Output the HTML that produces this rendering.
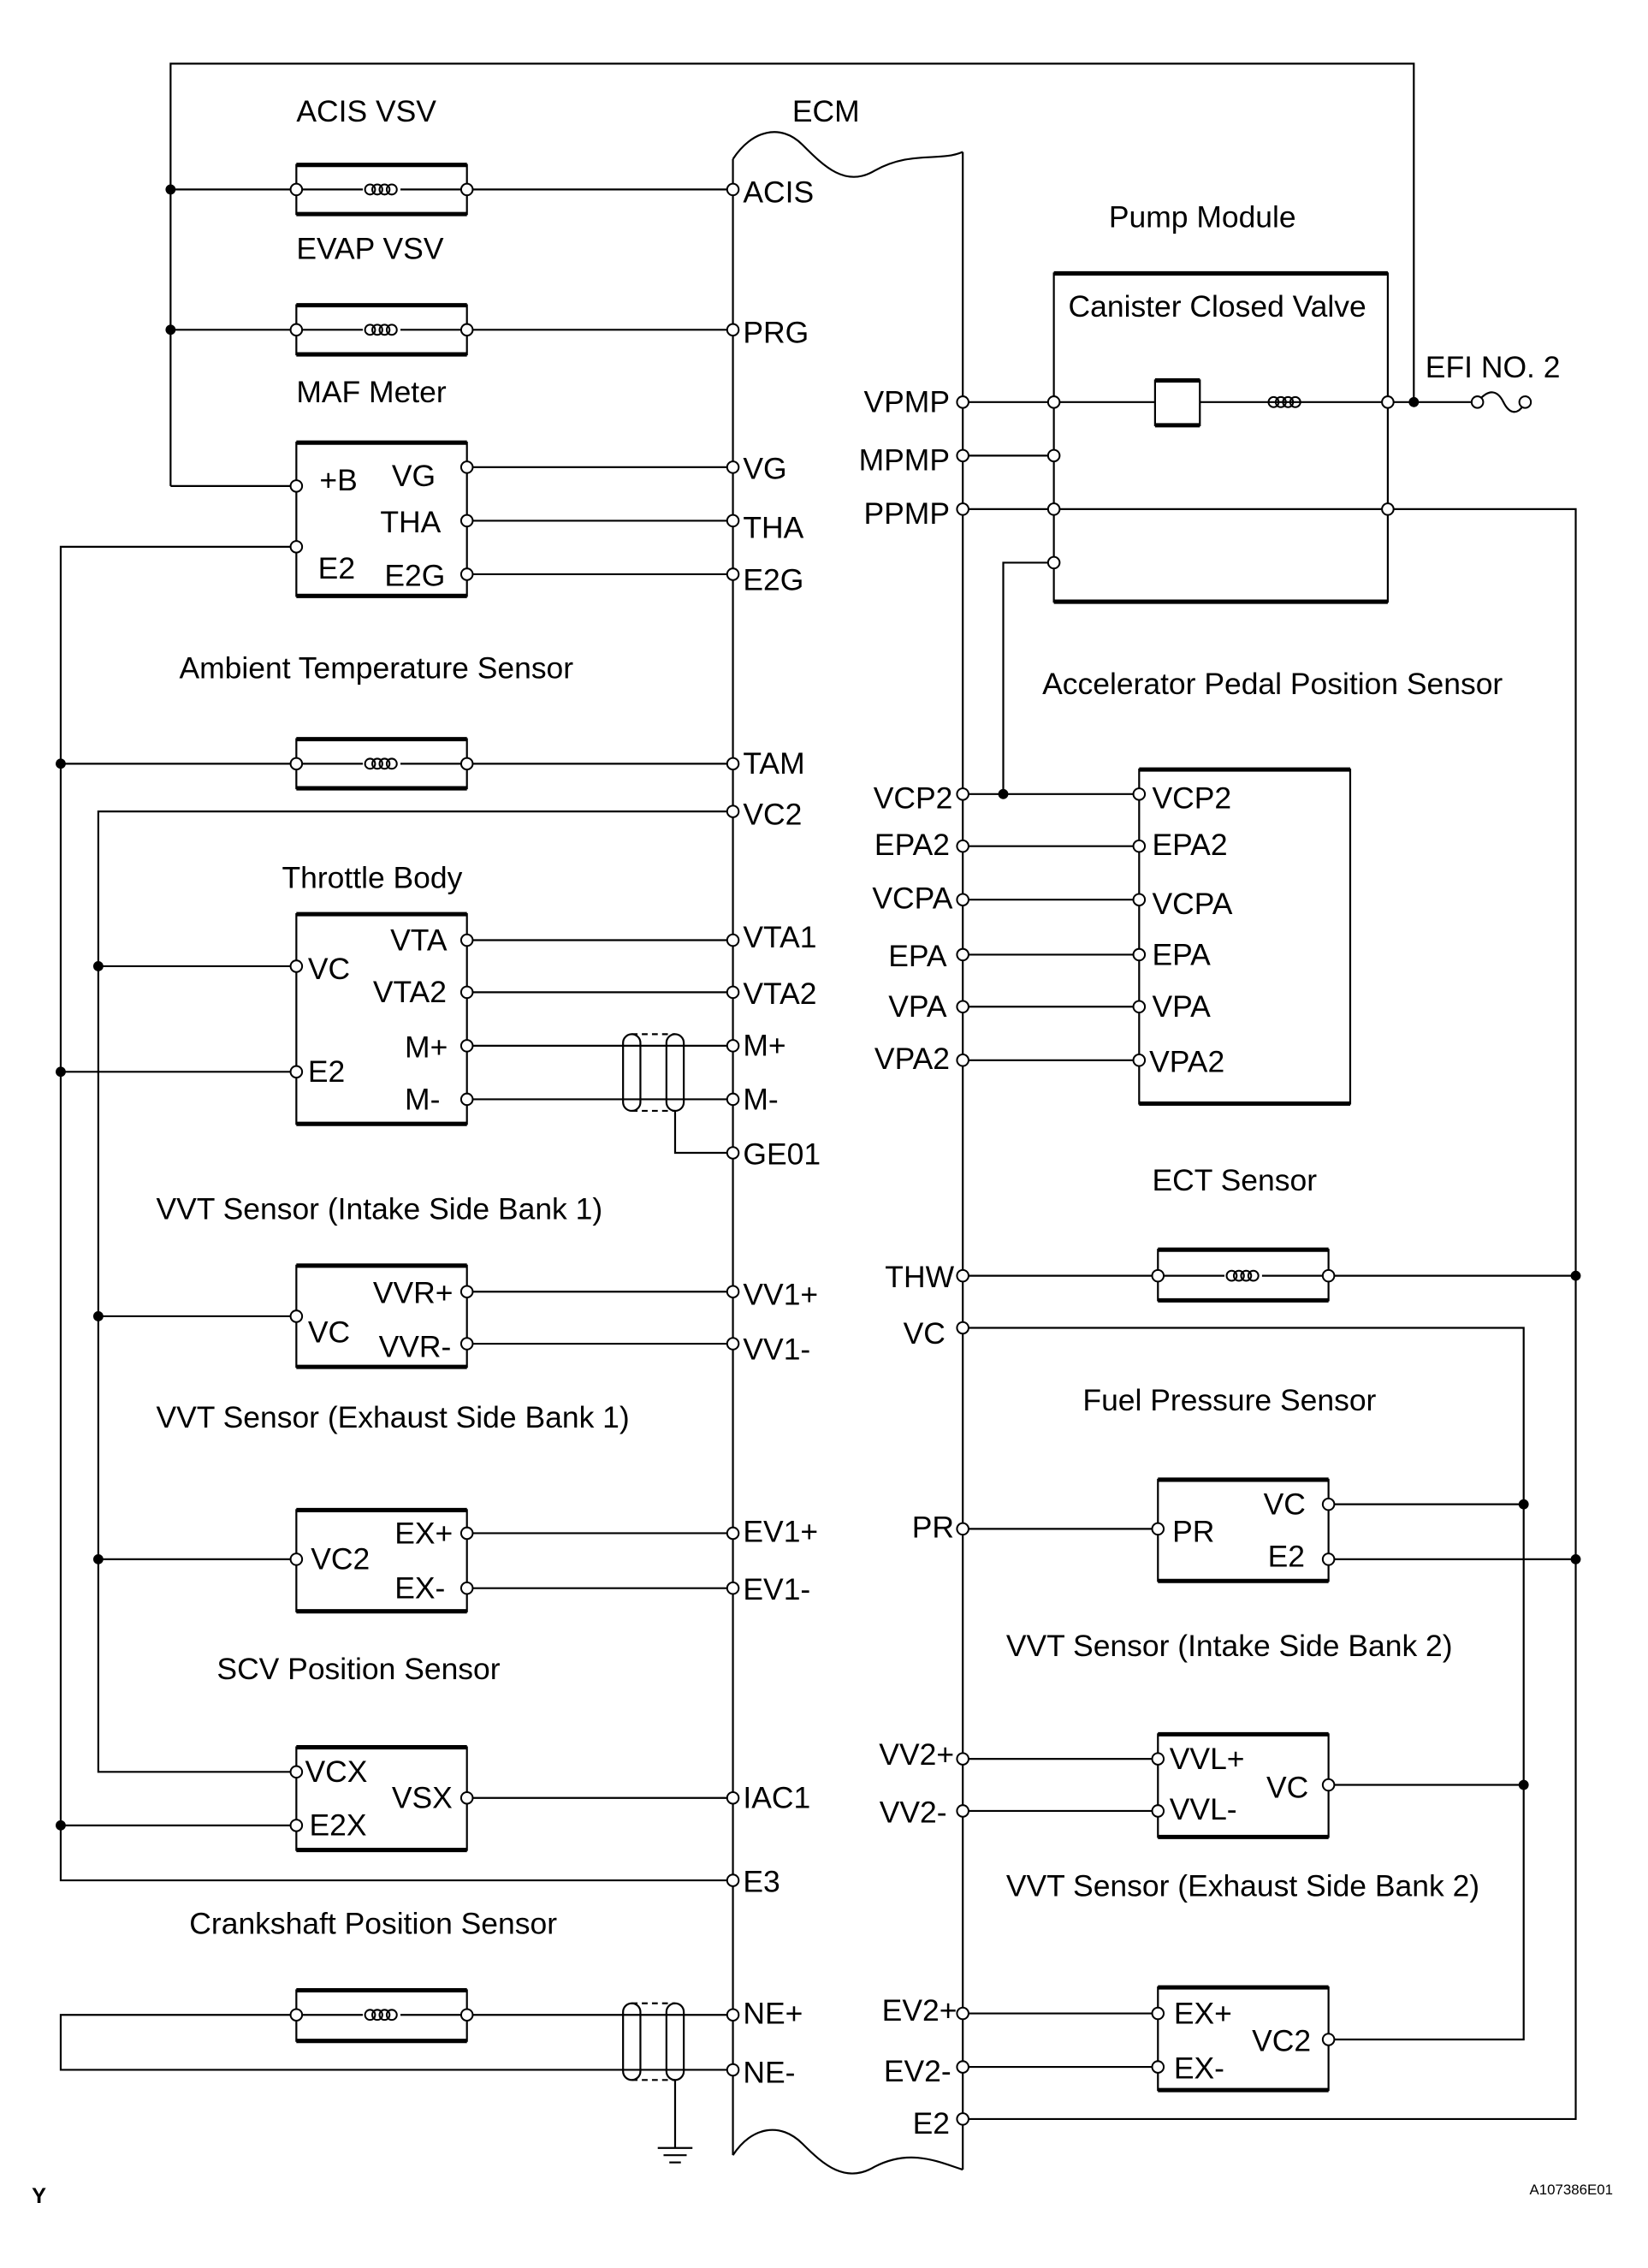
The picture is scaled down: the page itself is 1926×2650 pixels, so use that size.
<!DOCTYPE html>
<html><head><meta charset="utf-8"><style>
html,body{margin:0;padding:0;background:#fff}
svg{display:block}
text{font-family:"Liberation Sans",Arial,sans-serif;font-size:21px;fill:#000}
</style></head><body>
<svg width="1926" height="2650" viewBox="0 0 1140 1568" preserveAspectRatio="none" xmlns="http://www.w3.org/2000/svg">
<g stroke="#000" stroke-width="1.3" fill="none">
<path d="M507,110 C520,90 540,85 555,100 C570,115 585,130 605,118 C630,104 650,112 666,105"/>
<line x1="507" y1="110" x2="507" y2="1490"/>
<line x1="666" y1="105" x2="666" y2="1500"/>
<path d="M507,1490 C520,1470 540,1467 555,1482 C570,1497 585,1510 605,1498 C630,1485 650,1495 666,1500"/>
<polyline points="118,336 118,44 978,44 978,278"/>
<polyline points="118,336 205,336"/>
<line x1="118" y1="131" x2="507" y2="131"/>
<line x1="118" y1="228" x2="507" y2="228"/>
<line x1="323" y1="323" x2="507" y2="323"/>
<line x1="323" y1="360" x2="507" y2="360"/>
<line x1="323" y1="397" x2="507" y2="397"/>
<polyline points="205,378 42,378 42,1300 507,1300"/>
<line x1="42" y1="528" x2="507" y2="528"/>
<polyline points="507,561 68,561 68,1225 205,1225"/>
<line x1="68" y1="668" x2="205" y2="668"/>
<line x1="42" y1="741" x2="205" y2="741"/>
<line x1="323" y1="650" x2="507" y2="650"/>
<line x1="323" y1="686" x2="507" y2="686"/>
<line x1="323" y1="723" x2="507" y2="723"/>
<line x1="323" y1="760" x2="507" y2="760"/>
<polyline points="467,768 467,797 507,797"/>
<line x1="68" y1="910" x2="205" y2="910"/>
<line x1="323" y1="893" x2="507" y2="893"/>
<line x1="323" y1="929" x2="507" y2="929"/>
<line x1="68" y1="1078" x2="205" y2="1078"/>
<line x1="323" y1="1060" x2="507" y2="1060"/>
<line x1="323" y1="1098" x2="507" y2="1098"/>
<line x1="42" y1="1262" x2="205" y2="1262"/>
<line x1="323" y1="1243" x2="507" y2="1243"/>
<polyline points="507,1393 42,1393 42,1431 507,1431"/>
<polyline points="467,1438 467,1485"/>
<line x1="455" y1="1485" x2="479" y2="1485"/>
<line x1="459" y1="1490" x2="475" y2="1490"/>
<line x1="463" y1="1495" x2="471" y2="1495"/>
<rect x="431" y="715" width="12" height="53" rx="6"/>
<rect x="461" y="715" width="12" height="53" rx="6"/>
<line x1="437" y1="715" x2="467" y2="715" stroke-dasharray="4,3"/>
<line x1="437" y1="768" x2="467" y2="768" stroke-dasharray="4,3"/>
<rect x="431" y="1385" width="12" height="53" rx="6"/>
<rect x="461" y="1385" width="12" height="53" rx="6"/>
<line x1="437" y1="1385" x2="467" y2="1385" stroke-dasharray="4,3"/>
<line x1="437" y1="1438" x2="467" y2="1438" stroke-dasharray="4,3"/>
<line x1="666" y1="278" x2="1018" y2="278"/>
<line x1="666" y1="315" x2="729" y2="315"/>
<polyline points="666,352 1090,352 1090,1465 666,1465"/>
<polyline points="729,389 694,389 694,549"/>
<path d="M1022,278 C1030,268 1036,270 1040,278 C1044,286 1050,288 1055,278"/>
<line x1="666" y1="549" x2="788" y2="549"/>
<line x1="666" y1="585" x2="788" y2="585"/>
<line x1="666" y1="622" x2="788" y2="622"/>
<line x1="666" y1="660" x2="788" y2="660"/>
<line x1="666" y1="696" x2="788" y2="696"/>
<line x1="666" y1="733" x2="788" y2="733"/>
<line x1="666" y1="882" x2="1090" y2="882"/>
<polyline points="666,918 1054,918 1054,1410 919,1410"/>
<line x1="666" y1="1057" x2="801" y2="1057"/>
<line x1="919" y1="1040" x2="1054" y2="1040"/>
<line x1="919" y1="1078" x2="1090" y2="1078"/>
<line x1="666" y1="1216" x2="801" y2="1216"/>
<line x1="666" y1="1252" x2="801" y2="1252"/>
<line x1="919" y1="1234" x2="1054" y2="1234"/>
<line x1="666" y1="1392" x2="801" y2="1392"/>
<line x1="666" y1="1429" x2="801" y2="1429"/>
<g fill="#fff">
<rect x="205" y="114" width="118" height="34"/>
<rect x="205" y="211" width="118" height="34"/>
<rect x="205" y="306" width="118" height="106"/>
<rect x="205" y="511" width="118" height="34"/>
<rect x="205" y="632" width="118" height="145"/>
<rect x="205" y="875" width="118" height="70"/>
<rect x="205" y="1044" width="118" height="70"/>
<rect x="205" y="1208" width="118" height="71"/>
<rect x="205" y="1376" width="118" height="35"/>
<rect x="729" y="189" width="231" height="227" fill="none"/>
<rect x="788" y="532" width="146" height="231"/>
<rect x="801" y="864" width="118" height="35"/>
<rect x="801" y="1023" width="118" height="70"/>
<rect x="801" y="1199" width="118" height="71"/>
<rect x="801" y="1374" width="118" height="71"/>
<rect x="799" y="263" width="31" height="31"/>
</g>
<g stroke-width="3">
<path d="M205,114h118M205,148h118M205,211h118M205,245h118M205,306h118M205,412h118M205,511h118M205,545h118M205,632h118M205,777h118M205,875h118M205,945h118M205,1044h118M205,1114h118M205,1208h118M205,1279h118M205,1376h118M205,1411h118"/>
<path d="M729,189h231M729,416h231M788,532h146M788,763h146M801,864h118M801,899h118M801,1023h118M801,1093h118M801,1199h118M801,1270h118M801,1374h118M801,1445h118M799,263h31M799,294h31"/>
</g>
<path d="M205,131h46M277,131h46M205,228h46M277,228h46M205,528h46M277,528h46M205,1393h46M277,1393h46M801,882h46M873,882h46"/>
</g>
<g stroke="#000" stroke-width="1.2" fill="none">
<g id="c"><circle cx="256" cy="131" r="3.5"/><circle cx="261" cy="131" r="3.5"/><circle cx="266" cy="131" r="3.5"/><circle cx="271" cy="131" r="3.5"/></g>
<use href="#c" y="97"/><use href="#c" y="397"/><use href="#c" y="1262"/>
<use href="#c" x="596" y="751"/><use href="#c" x="625" y="147"/>
</g>
<g fill="#000">
<circle cx="118" cy="131" r="3.5"/><circle cx="118" cy="228" r="3.5"/>
<circle cx="42" cy="528" r="3.5"/><circle cx="42" cy="741" r="3.5"/><circle cx="42" cy="1262" r="3.5"/>
<circle cx="68" cy="668" r="3.5"/><circle cx="68" cy="910" r="3.5"/><circle cx="68" cy="1078" r="3.5"/>
<circle cx="978" cy="278" r="3.5"/><circle cx="694" cy="549" r="3.5"/>
<circle cx="1090" cy="882" r="3.5"/><circle cx="1090" cy="1078" r="3.5"/>
<circle cx="1054" cy="1040" r="3.5"/><circle cx="1054" cy="1234" r="3.5"/>
</g>
<g fill="#fff" stroke="#000" stroke-width="1.2">
<circle cx="205" cy="131" r="4"/><circle cx="323" cy="131" r="4"/><circle cx="507" cy="131" r="4"/>
<circle cx="205" cy="228" r="4"/><circle cx="323" cy="228" r="4"/><circle cx="507" cy="228" r="4"/>
<circle cx="205" cy="336" r="4"/><circle cx="205" cy="378" r="4"/>
<circle cx="323" cy="323" r="4"/><circle cx="323" cy="360" r="4"/><circle cx="323" cy="397" r="4"/>
<circle cx="507" cy="323" r="4"/><circle cx="507" cy="360" r="4"/><circle cx="507" cy="397" r="4"/>
<circle cx="205" cy="528" r="4"/><circle cx="323" cy="528" r="4"/><circle cx="507" cy="528" r="4"/>
<circle cx="507" cy="561" r="4"/>
<circle cx="205" cy="668" r="4"/><circle cx="205" cy="741" r="4"/>
<circle cx="323" cy="650" r="4"/><circle cx="323" cy="686" r="4"/><circle cx="323" cy="723" r="4"/><circle cx="323" cy="760" r="4"/>
<circle cx="507" cy="650" r="4"/><circle cx="507" cy="686" r="4"/><circle cx="507" cy="723" r="4"/><circle cx="507" cy="760" r="4"/><circle cx="507" cy="797" r="4"/>
<circle cx="205" cy="910" r="4"/><circle cx="323" cy="893" r="4"/><circle cx="323" cy="929" r="4"/>
<circle cx="507" cy="893" r="4"/><circle cx="507" cy="929" r="4"/>
<circle cx="205" cy="1078" r="4"/><circle cx="323" cy="1060" r="4"/><circle cx="323" cy="1098" r="4"/>
<circle cx="507" cy="1060" r="4"/><circle cx="507" cy="1098" r="4"/>
<circle cx="205" cy="1225" r="4"/><circle cx="205" cy="1262" r="4"/><circle cx="323" cy="1243" r="4"/>
<circle cx="507" cy="1243" r="4"/><circle cx="507" cy="1300" r="4"/>
<circle cx="205" cy="1393" r="4"/><circle cx="323" cy="1393" r="4"/><circle cx="507" cy="1393" r="4"/><circle cx="507" cy="1431" r="4"/>
<circle cx="666" cy="278" r="4"/><circle cx="666" cy="315" r="4"/><circle cx="666" cy="352" r="4"/>
<circle cx="729" cy="278" r="4"/><circle cx="729" cy="315" r="4"/><circle cx="729" cy="352" r="4"/><circle cx="729" cy="389" r="4"/>
<circle cx="960" cy="278" r="4"/><circle cx="960" cy="352" r="4"/>
<circle cx="1022" cy="278" r="4"/><circle cx="1055" cy="278" r="4"/>
<circle cx="666" cy="549" r="4"/><circle cx="666" cy="585" r="4"/><circle cx="666" cy="622" r="4"/><circle cx="666" cy="660" r="4"/><circle cx="666" cy="696" r="4"/><circle cx="666" cy="733" r="4"/>
<circle cx="788" cy="549" r="4"/><circle cx="788" cy="585" r="4"/><circle cx="788" cy="622" r="4"/><circle cx="788" cy="660" r="4"/><circle cx="788" cy="696" r="4"/><circle cx="788" cy="733" r="4"/>
<circle cx="666" cy="882" r="4"/><circle cx="801" cy="882" r="4"/><circle cx="919" cy="882" r="4"/>
<circle cx="666" cy="918" r="4"/><circle cx="666" cy="1057" r="4"/><circle cx="801" cy="1057" r="4"/>
<circle cx="919" cy="1040" r="4"/><circle cx="919" cy="1078" r="4"/>
<circle cx="666" cy="1216" r="4"/><circle cx="666" cy="1252" r="4"/><circle cx="801" cy="1216" r="4"/><circle cx="801" cy="1252" r="4"/><circle cx="919" cy="1234" r="4"/>
<circle cx="666" cy="1392" r="4"/><circle cx="666" cy="1429" r="4"/><circle cx="666" cy="1465" r="4"/>
<circle cx="801" cy="1392" r="4"/><circle cx="801" cy="1429" r="4"/><circle cx="919" cy="1410" r="4"/>
</g>
<text x="205" y="84">ACIS VSV</text>
<text x="548" y="84">ECM</text>
<text x="205" y="179">EVAP VSV</text>
<text x="205" y="278">MAF Meter</text>
<text x="124" y="469">Ambient Temperature Sensor</text>
<text x="195" y="614">Throttle Body</text>
<text x="108" y="843">VVT Sensor (Intake Side Bank 1)</text>
<text x="108" y="987">VVT Sensor (Exhaust Side Bank 1)</text>
<text x="150" y="1161">SCV Position Sensor</text>
<text x="131" y="1337">Crankshaft Position Sensor</text>
<text x="767" y="157">Pump Module</text>
<text x="739" y="219">Canister Closed Valve</text>
<text x="986" y="261">EFI NO. 2</text>
<text x="721" y="480">Accelerator Pedal Position Sensor</text>
<text x="797" y="823">ECT Sensor</text>
<text x="749" y="975">Fuel Pressure Sensor</text>
<text x="696" y="1145">VVT Sensor (Intake Side Bank 2)</text>
<text x="696" y="1311">VVT Sensor (Exhaust Side Bank 2)</text>
<g>
<text x="514" y="140">ACIS</text><text x="514" y="237">PRG</text>
<text x="514" y="331">VG</text><text x="514" y="372">THA</text><text x="514" y="408">E2G</text>
<text x="514" y="535">TAM</text><text x="514" y="570">VC2</text>
<text x="514" y="655">VTA1</text><text x="514" y="694">VTA2</text><text x="514" y="730">M+</text><text x="514" y="767">M-</text><text x="514" y="805">GE01</text>
<text x="514" y="902">VV1+</text><text x="514" y="940">VV1-</text>
<text x="514" y="1066">EV1+</text><text x="514" y="1106">EV1-</text>
<text x="514" y="1250">IAC1</text><text x="514" y="1308">E3</text>
<text x="514" y="1399">NE+</text><text x="514" y="1440">NE-</text>
</g>
<g>
<text x="221" y="339">+B</text><text x="271" y="336">VG</text><text x="263" y="368">THA</text>
<text x="220" y="400">E2</text><text x="266" y="405">E2G</text>
<text x="213" y="677">VC</text><text x="213" y="748">E2</text>
<text x="270" y="657">VTA</text><text x="258" y="693">VTA2</text><text x="280" y="731">M+</text><text x="280" y="767">M-</text>
<text x="213" y="928">VC</text><text x="258" y="901">VVR+</text><text x="262" y="938">VVR-</text>
<text x="215" y="1085">VC2</text><text x="273" y="1067">EX+</text><text x="273" y="1105">EX-</text>
<text x="211" y="1232">VCX</text><text x="271" y="1250">VSX</text><text x="214" y="1269">E2X</text>
</g>
<g text-anchor="end">
<text x="657" y="285">VPMP</text><text x="657" y="325">MPMP</text><text x="657" y="362">PPMP</text>
<text x="659" y="559">VCP2</text><text x="657" y="591">EPA2</text><text x="659" y="628">VCPA</text>
<text x="655" y="668">EPA</text><text x="655" y="703">VPA</text><text x="657" y="739">VPA2</text>
<text x="660" y="890">THW</text><text x="654" y="929">VC</text><text x="660" y="1063">PR</text>
<text x="660" y="1220">VV2+</text><text x="655" y="1260">VV2-</text>
<text x="662" y="1397">EV2+</text><text x="658" y="1439">EV2-</text><text x="657" y="1475">E2</text>
</g>
<g>
<text x="797" y="559">VCP2</text><text x="797" y="591">EPA2</text><text x="797" y="632">VCPA</text>
<text x="797" y="667">EPA</text><text x="797" y="703">VPA</text><text x="795" y="741">VPA2</text>
<text x="811" y="1066">PR</text><text x="874" y="1047">VC</text><text x="877" y="1083">E2</text>
<text x="809" y="1223">VVL+</text><text x="809" y="1258">VVL-</text><text x="876" y="1243">VC</text>
<text x="812" y="1399">EX+</text><text x="812" y="1437">EX-</text><text x="866" y="1418">VC2</text>
</g>
<text x="22" y="1523" style="font-weight:bold;font-size:15px">Y</text>
<text x="1058" y="1517" style="font-size:10px">A107386E01</text>
</svg>
</body></html>
